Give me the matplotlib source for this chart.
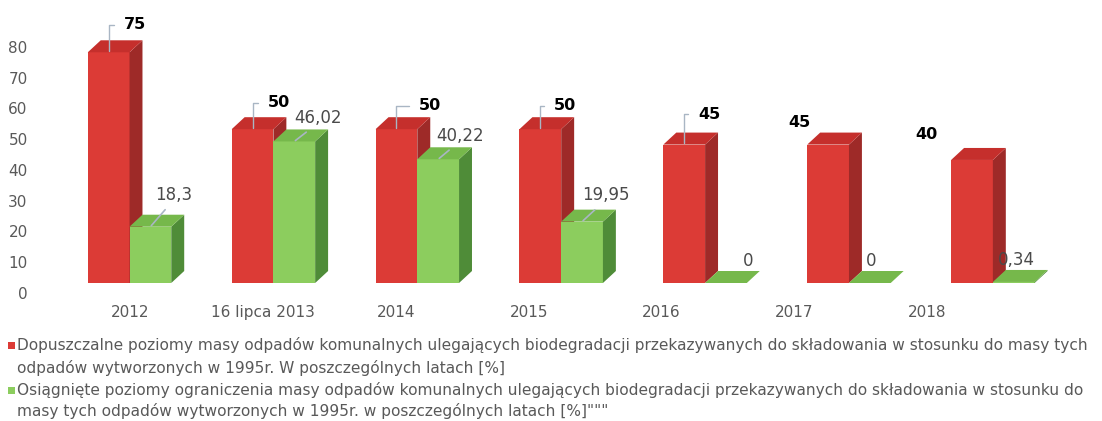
import matplotlib.pyplot as plt
import matplotlib.transforms as mtransforms
from matplotlib.patches import Polygon, Rectangle

# data
categories = ["2012", "16 lipca 2013", "2014", "2015", "2016", "2017", "2018"]
allowed = [75, 50, 50, 50, 45, 45, 40]
achieved = [18.3, 46.02, 40.22, 19.95, 0, 0, 0.34]
allowed_labels = ["75", "50", "50", "50", "45", "45", "40"]
achieved_labels = ["18,3", "46,02", "40,22", "19,95", "0", "0", "0,34"]
yticks = [0, 10, 20, 30, 40, 50, 60, 70, 80]

legend_red = ["Dopuszczalne poziomy masy odpadów komunalnych ulegających biodegradacji przekazywanych do składowania w stosunku do masy tych",
              "odpadów wytworzonych w 1995r. W poszczególnych latach [%]"]
legend_green = ["Osiągnięte poziomy ograniczenia masy odpadów komunalnych ulegających biodegradacji przekazywanych do składowania w stosunku do",
                "masy tych odpadów wytworzonych w 1995r. w poszczególnych latach [%]\"\"\""]

# label offsets (points) relative to the top centre of each bar front
red_off = [(19, 20), (19, 19), (24, 17), (18, 17), (18, 22), (-21, 16), (-33, 18)]
red_leader = [True, True, True, True, True, False, False]
green_off = [(17, 23), (17, 17), (16, 17), (17, 19), (16, 16), (1, 16), (2, 16)]
green_leader = [True, True, True, True, False, False, False]

RED = ("#dc3b36", "#c52f2c", "#9e2a28")     # front, top, side
GREEN = ("#8ccd5e", "#76b84b", "#4f8c38")
W = 0.29     # bar width
DX = 0.09    # depth, x data units
DY = 3.9     # depth, y data units

plt.rcParams["font.family"] = ["DejaVu Sans"]

fig = plt.figure(figsize=(11.02, 4.21), dpi=100)
ax = fig.add_axes([36 / 1102, 138 / 421, 1036 / 1102, 283 / 421])
ax.set_xlim(-0.65, 6.55)
ax.set_ylim(0, 92)


def bar3d(x0, h, colors):
    front, top, side = colors
    ax.bar(x0, h, width=W, align="edge", color=front, linewidth=0, zorder=2)
    ax.add_patch(Polygon([(x0 + W, 0), (x0 + W + DX, DY), (x0 + W + DX, h + DY), (x0 + W, h)],
                         closed=True, color=side, linewidth=0, zorder=2))
    ax.add_patch(Polygon([(x0, h), (x0 + DX, h + DY), (x0 + W + DX, h + DY), (x0 + W, h)],
                         closed=True, color=top, linewidth=0, zorder=2))


for i in range(len(categories)):
    bar3d(i - W, allowed[i], RED)
    bar3d(i, achieved[i], GREEN)

    if red_leader[i]:
        ax.annotate(allowed_labels[i], xy=(i - W / 2, allowed[i]), xytext=red_off[i],
                    textcoords="offset points", ha="center", va="center",
                    fontsize=11.5, color="black", fontweight="bold", zorder=4,
                    arrowprops=dict(arrowstyle="-", color="#a9b6c4", lw=1,
                                    connectionstyle="angle,angleA=0,angleB=90,rad=0",
                                    relpos=(0, 0.5), shrinkA=5, shrinkB=1))
    else:
        ax.annotate(allowed_labels[i], xy=(i - W / 2, allowed[i]), xytext=red_off[i],
                    textcoords="offset points", ha="center", va="center",
                    fontsize=11.5, color="black", fontweight="bold", zorder=4)

    if green_leader[i]:
        ax.annotate(achieved_labels[i], xy=(i + W / 2, achieved[i]), xytext=green_off[i],
                    textcoords="offset points", ha="center", va="center",
                    fontsize=12, color="#4a4a4a", zorder=4,
                    arrowprops=dict(arrowstyle="-", color="#a9b6c4", lw=1.2,
                                    relpos=(0.4, 0), shrinkA=3, shrinkB=1))
    else:
        ax.annotate(achieved_labels[i], xy=(i + W / 2, achieved[i]), xytext=green_off[i],
                    textcoords="offset points", ha="center", va="center",
                    fontsize=12, color="#4a4a4a", zorder=4)

# category labels sit slightly left of the bar groups (perspective)
ax.set_xticks([0.0035 + 0.9236 * i for i in range(len(categories))])
ax.set_xticklabels(categories, fontsize=11, color="#595959")
ax.set_yticks(yticks)
ax.set_yticklabels([str(t) for t in yticks], fontsize=11, color="#595959")
ax.tick_params(axis="both", length=0)
ax.tick_params(axis="x", pad=16)
ax.tick_params(axis="y", pad=6)
shift = mtransforms.ScaledTranslation(0, -10 / 100, fig.dpi_scale_trans)
for lbl in ax.get_yticklabels():
    lbl.set_transform(lbl.get_transform() + shift)
for s in ax.spines.values():
    s.set_visible(False)

# legend drawn by hand: wrapped labels with hanging indent
rows = [(legend_red[0], RED[0]), (legend_red[1], None),
        (legend_green[0], GREEN[0]), (legend_green[1], None)]
ys = [345, 368, 390, 411]
for (txt, col), py in zip(rows, ys):
    yf = 1 - py / 421
    if col is not None:
        fig.patches.append(Rectangle((8 / 1102, yf - 3.5 / 421), 7 / 1102, 7 / 421,
                                     transform=fig.transFigure, color=col, linewidth=0))
    fig.text(17 / 1102, yf, txt, fontsize=11.1, color="#595959", va="center", ha="left")

fig.savefig("out.png", dpi=100)
